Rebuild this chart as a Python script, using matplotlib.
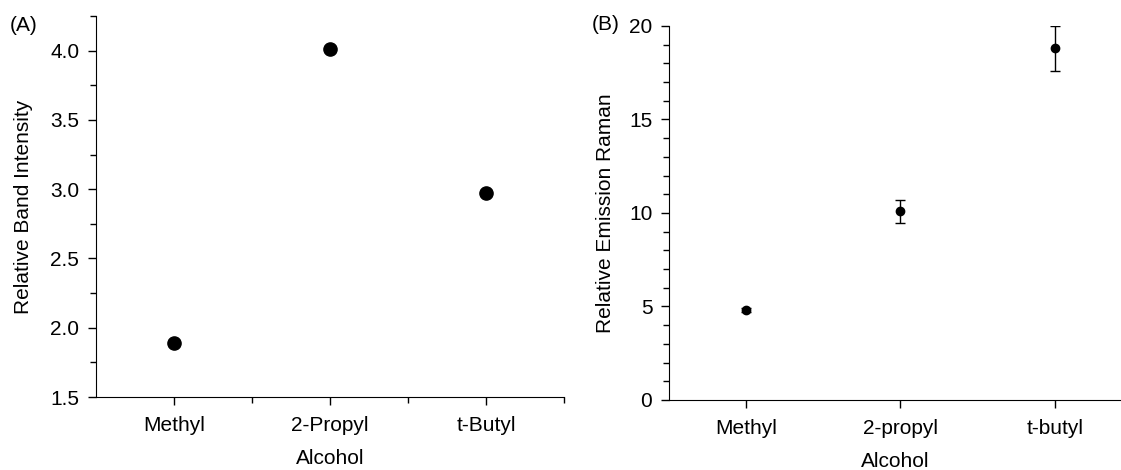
import matplotlib
matplotlib.use("Agg")
import matplotlib.pyplot as plt
from matplotlib.ticker import MultipleLocator, FixedLocator

plt.rcParams['font.family'] = ['Liberation Sans', 'DejaVu Sans']
plt.rcParams['font.size'] = 15

### Data
alcohols_a = ["Methyl", "2-Propyl", "t-Butyl"]
band_intensity = [1.89, 4.01, 2.97]

alcohols_b = ["Methyl", "2-propyl", "t-butyl"]
emission_raman = [4.8, 10.1, 18.8]
emission_err = [0.1, 0.62, 1.2]

fig = plt.figure(figsize=(11.21, 4.70), dpi=100)

### Panel A
ax1 = fig.add_axes([0.0856, 0.1553, 0.4175, 0.8107])
ax1.plot(range(len(alcohols_a)), band_intensity, 'o', color='black', markersize=9.5)
ax1.set_xlim(-0.5, 2.5)
ax1.set_ylim(1.5, 4.25)
ax1.set_xticks(range(len(alcohols_a)))
ax1.set_xticklabels(alcohols_a)
ax1.xaxis.set_minor_locator(FixedLocator([0.5, 1.5, 2.5]))
ax1.yaxis.set_minor_locator(MultipleLocator(0.25))
ax1.set_yticks([1.5, 2.0, 2.5, 3.0, 3.5, 4.0])
ax1.set_yticklabels(["1.5", "2.0", "2.5", "3.0", "3.5", "4.0"])
ax1.set_xlabel("Alcohol", labelpad=10)
ax1.set_ylabel("Relative Band Intensity", labelpad=12)
ax1.text(-0.185, 1.0, "(A)", transform=ax1.transAxes, fontsize=15, va='top', ha='left')

### Panel B
ax2 = fig.add_axes([0.5968, 0.149, 0.4032, 0.7957])
ax2.errorbar(range(len(alcohols_b)), emission_raman, yerr=emission_err, fmt='o',
             color='black', markersize=6, capsize=3.5, elinewidth=1, capthick=1)
ax2.set_xlim(-0.5, 2.43)
ax2.set_ylim(0, 20)
ax2.set_xticks(range(len(alcohols_b)))
ax2.set_xticklabels(alcohols_b)
ax2.yaxis.set_major_locator(MultipleLocator(5))
ax2.yaxis.set_minor_locator(MultipleLocator(1))
ax2.set_xlabel("Alcohol", labelpad=10)
ax2.set_ylabel("Relative Emission Raman", labelpad=10)
ax2.text(-0.17, 1.03, "(B)", transform=ax2.transAxes, fontsize=15, va='top', ha='left')

for ax in (ax1, ax2):
    ax.spines['top'].set_visible(False)
    ax.spines['right'].set_visible(False)
    ax.tick_params(which='major', length=6, width=1, direction='out')
    ax.tick_params(which='minor', length=4, width=1, direction='out')
    ax.tick_params(axis='x', pad=8)
    ax.tick_params(axis='y', pad=6)

fig.savefig("out.png", dpi=100)
